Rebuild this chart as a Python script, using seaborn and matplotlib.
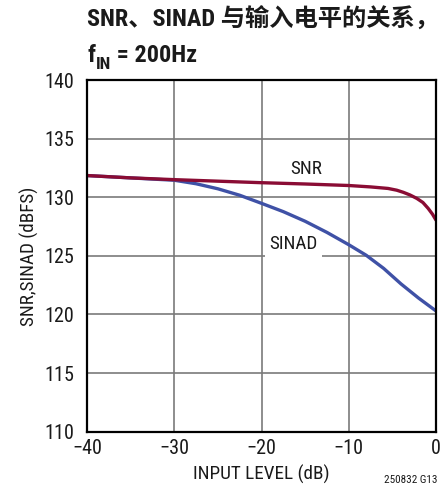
import matplotlib
matplotlib.use("Agg")
import matplotlib.pyplot as plt
from matplotlib import font_manager
import seaborn as sns
import pandas as pd

# ---- data ----
snr_x = [-40, -35, -30, -25, -20, -15, -10, -7.5, -5.5, -4.5, -3.75, -3, -2.2, -1.5, -0.9, -0.4, 0]
snr_y = [131.85, 131.65, 131.5, 131.37, 131.24, 131.13, 131.0, 130.88, 130.75, 130.6, 130.42,
         130.2, 129.9, 129.55, 129.05, 128.55, 128.05]
sinad_x = [-40, -35, -30, -27.5, -25, -22.5, -20, -17.5, -15, -12.5, -10, -8, -6, -4, -2, 0]
sinad_y = [131.85, 131.65, 131.45, 131.15, 130.72, 130.17, 129.48, 128.77, 127.95, 127.0,
           125.95, 125.05, 123.93, 122.6, 121.4, 120.3]
x_ticks = [-40, -30, -20, -10, 0]
x_tick_labels = ["\u221240", "\u221230", "\u221220", "\u221210", "0"]
y_ticks = [110, 115, 120, 125, 130, 135, 140]
title_line1 = "SNR\u3001SINAD 与输入电平的关系，"
x_label = "INPUT LEVEL (dB)"
y_label = "SNR,SINAD (dBFS)"
note = "250832 G13"

sns.set_theme(style="white")
fonts = font_manager.fontManager.ttflist
names = {f.name for f in fonts}
latin = "DejaVu Sans"
for cand in ["Roboto Condensed", "Archivo Narrow", "PT Sans Narrow", "Liberation Sans Narrow",
             "Fira Sans Condensed", "IBM Plex Sans Condensed", "Liberation Sans"]:
    if cand in names:
        latin = cand
        break
plt.rcParams["font.family"] = [latin, "Noto Sans CJK SC", "DejaVu Sans"]

df = pd.concat([
    pd.DataFrame({"x": snr_x, "y": snr_y, "s": "SNR"}),
    pd.DataFrame({"x": sinad_x, "y": sinad_y, "s": "SINAD"}),
])

fig = plt.figure(figsize=(4.42, 5.01), dpi=100)
ax = fig.add_axes([87 / 442, 1 - 431.7 / 501, (436 - 87) / 442, (431.7 - 80) / 501])

ax.grid(True, color="#7a7a7a", linewidth=1.2, zorder=0)
ax.set_axisbelow(True)
palette = {"SNR": "#8a0c34", "SINAD": "#3f51a6"}
for name in ["SINAD", "SNR"]:
    sub = df[df.s == name]
    sns.lineplot(data=sub, x="x", y="y", color=palette[name], linewidth=2.4,
                 ax=ax, legend=False, zorder=3)

ax.set_xlim(-40, 0)
ax.set_ylim(110, 140)
ax.set_xticks(x_ticks)
ax.set_xticklabels(x_tick_labels)
ax.set_yticks(y_ticks)
ax.tick_params(axis="both", length=0, labelsize=14.5, colors="#1a1a1a")
ax.tick_params(axis="y", pad=9)
ax.tick_params(axis="x", pad=5)
for sp in ax.spines.values():
    sp.set_visible(True)
    sp.set_color("black")
    sp.set_linewidth(1.6)
    sp.set_zorder(4)

ax.set_xlabel(x_label, fontsize=13.8, color="#1a1a1a", labelpad=5)
ax.set_ylabel(y_label, fontsize=13.8, color="#1a1a1a", labelpad=4)

ax.text(-14.9, 131.95, "SNR", fontsize=13.8, ha="center", va="baseline", color="#1a1a1a", zorder=2)
ax.text(-16.3, 125.55, "SINAD", fontsize=13.8, ha="center", va="baseline", color="#1a1a1a",
        zorder=2, bbox=dict(facecolor="white", edgecolor="none", pad=3.0))

# title
title_kw = dict(fontsize=17.5, fontweight="bold", color="#1a1a1a")
fig.text(87 / 442, 1 - 27 / 501, title_line1, ha="left", va="baseline", **title_kw)
f1 = fig.text(87 / 442, 1 - 62 / 501, "f", ha="left", va="baseline", **title_kw)
f2 = ax.annotate("IN", xy=(1, 0), xycoords=f1, xytext=(0.5, -3.5), textcoords="offset points",
                 fontsize=12.5, fontweight="bold", color="#1a1a1a", ha="left", va="bottom",
                 annotation_clip=False)
ax.annotate(" = 200Hz", xy=(1, 0), xycoords=f2, xytext=(0, 3.5), textcoords="offset points",
            ha="left", va="bottom", annotation_clip=False, **title_kw)

fig.text(438 / 442, 1 - 483 / 501, note, fontsize=8, ha="right", va="baseline", color="#1a1a1a")

fig.savefig("out.png", dpi=100)
